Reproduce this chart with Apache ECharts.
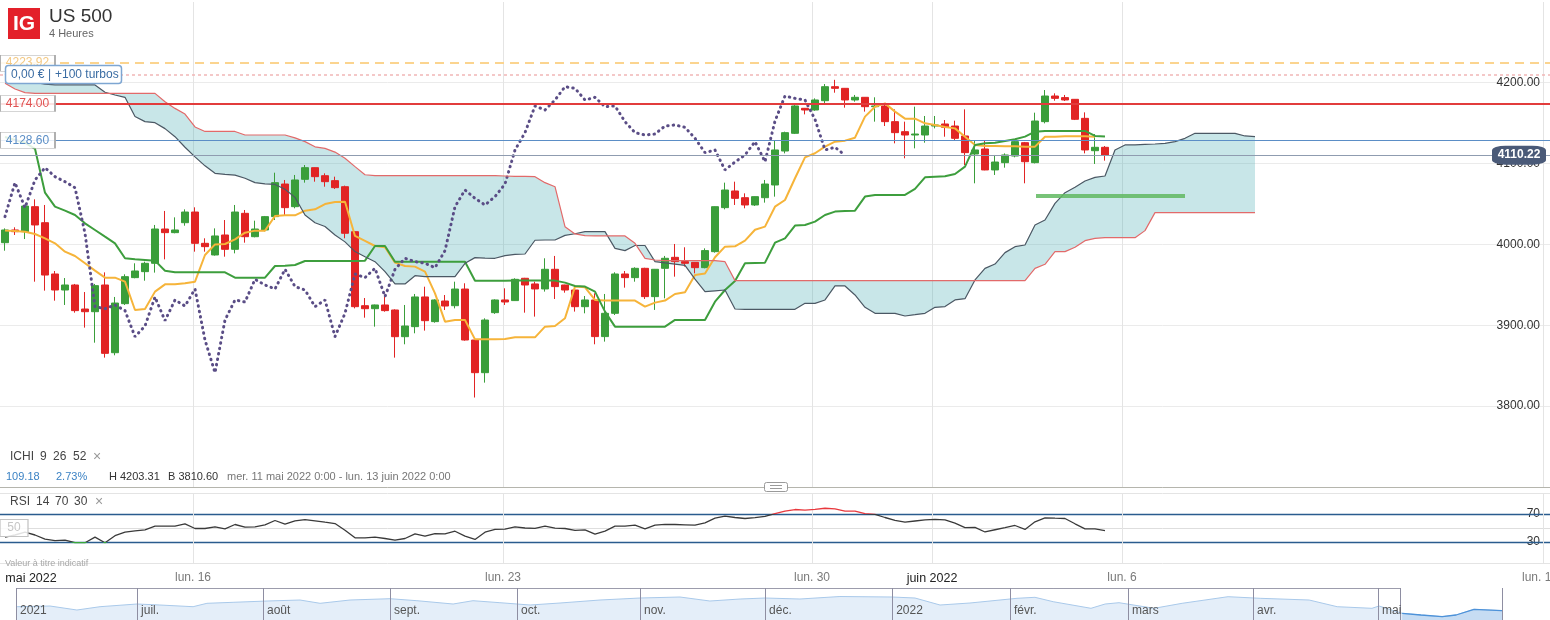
<!DOCTYPE html>
<html><head><meta charset="utf-8">
<script src="https://cdn.jsdelivr.net/npm/echarts@6/dist/echarts.min.js"></script>
<style>html,body{margin:0;padding:0;background:#fff;overflow:hidden}#c{width:1550px;height:620px}</style>
</head><body><div id="c"></div>
<script>
// ---------- DATA ----------
const candleOpen = [4002,4017.7,4015.6,4046.5,4026.7,3963.3,3943.5,3949.7,3920,3916.7,
3949.7,3866,3926.6,3958.8,3966.2,3976.5,4018.9,4014.4,4026.7,4039.9,
4001.2,3986.8,4011.5,3993.8,4038.3,4009.4,4017.7,4034.2,4074.5,4046.5,
4080.3,4094.7,4084.8,4078.7,4071.2,4015.6,3924.1,3920.4,3925,3918.8,
3885.8,3898.2,3934.9,3904.4,3929.9,3924.1,3944.7,3881.7,3841.3,3915.5,
3931.2,3930.4,3958,3951,3944.8,3969.1,3949.7,3943.5,3922.9,3931.2,
3885.9,3914.7,3963.3,3958.8,3970.3,3935.3,3970.3,3983.9,3978.6,3977.7,
3971.1,3990.9,4045.3,4065.9,4057.6,4048.6,4057.6,4073.3,4115.3,4137.2,
4168.1,4166,4177.5,4194.8,4192.8,4178.4,4181.7,4170.1,4171,4151.6,
4139.2,4135.1,4135.1,4146.2,4148.7,4146.2,4133.9,4111.6,4117.8,4091.9,
4100.9,4109.1,4125.6,4100.9,4151.6,4183.3,4181.3,4179.2,4155.7,4115.7,
4119.9];
const candleClose = [4017.7,4015.6,4047.3,4023.9,3962,3943.5,3949.7,3918,3916.7,3948.9,
3865.2,3927.4,3960,3967,3976.5,4018.9,4014.4,4017.7,4039.9,4001.2,
3997.1,4010.3,3993.8,4039.9,4009.4,4018.9,4034.2,4076.2,4045.3,4079.5,
4094.7,4083.6,4077.4,4070,4013.6,3922.9,3920.4,3925,3918,3885.8,
3899,3934.9,3905.6,3931.2,3923.7,3944.7,3881.7,3841.3,3906.4,3931.2,
3928.7,3956.7,3949.7,3944.8,3969.1,3947.7,3943.5,3922.9,3931.2,3885.9,
3914.7,3963.3,3958.8,3970.3,3935.3,3969.1,3982.7,3978.6,3976.5,3971.1,
3992.2,4046.5,4067.1,4056.8,4048.6,4058.9,4074.5,4116.6,4138,4171,
4166,4178.4,4194.8,4192.8,4178.4,4181.7,4170.1,4171,4151.6,4138,
4135.1,4136.3,4146.2,4147.5,4144.6,4131,4113.3,4116.6,4091.9,4101.7,
4110.4,4126.9,4102.1,4152.4,4183.3,4180.4,4178.4,4154.5,4116.6,4119.9,
4110.22];
const candleLow = [3992.1,4011.5,4006.5,3953.8,3942.7,3930.3,3925,3915.5,3897,3878.4,
3859.9,3862.8,3925,3958,3955,3965,3981.4,4013.6,4023,3990.9,
3990.9,3986,3984.7,3988.8,4002,4008.6,4016,4030,4036.2,4044.5,
4076.2,4077.4,4071.2,4068.4,4007.4,3920.8,3909.3,3898.2,3916.7,3859.9,
3876.4,3890,3893.3,3903.1,3918.8,3920.8,3880.9,3810.6,3829,3914,
3925,3930,3915.5,3910.6,3941.5,3932.4,3940.2,3916.8,3914.7,3876.4,
3879.7,3912.6,3946.4,3953.8,3932.4,3918.9,3933.2,3960,3972.4,3964.1,
3970.3,3989.7,4043.2,4048.6,4044.5,4047.4,4051.5,4058.9,4112.4,4136.3,
4160.6,4165,4174.2,4187.4,4168.9,4176.3,4164,4151.6,4146.2,4124.8,
4106.3,4118.6,4125.6,4143.3,4133,4128.9,4098,4075.4,4091.5,4085.7,
4094.7,4107.5,4075.4,4100,4149.5,4177.5,4177.1,4153.6,4112.4,4099.3,
4103.4];
const candleHigh = [4019.7,4021,4048.6,4055.6,4048.6,3967,3958.3,3951,3941,3951,
3965.3,3934.9,3962.9,3976.5,3978.5,4023.9,4041.2,4033.3,4043.2,4045.7,
4007.4,4019.7,4030,4048.6,4042.4,4029.2,4035,4088.5,4079.5,4085.7,
4098,4095,4087.7,4083.6,4072.5,4015.8,3933.6,3925.5,3935.3,3919.6,
3925,3938.6,3947.6,3932,3937.3,3953.8,3951.8,3882,3908.5,3932,
3945.6,3958,3958.5,3953.8,3982.7,3985.6,3950,3947.7,3936.1,3939.4,
3938.6,3965.4,3967,3971.6,3971,3969.5,3985.6,4000.4,3996.3,3978,
3995,4046.8,4076.2,4077.4,4063,4059.2,4079.5,4128.9,4139.2,4172.2,
4168.5,4180.4,4198.1,4203.31,4193.2,4184.6,4182,4181.7,4174.2,4166.8,
4151.6,4170.1,4158.6,4158.6,4153.6,4152.8,4166.8,4128.9,4128.9,4110.4,
4112.4,4129.8,4126.5,4162.7,4190.7,4186.6,4184.6,4179.5,4163.1,4136.3,
4121.5];
const tenkanVals = [4016.9,4016.4,4015.6,4012.7,4007.4,4001.2,3990.9,3985.5,3976.5,3967.4,
3958.8,3958.8,3953.8,3918.8,3920,3941.5,3950.5,3950.5,3951.8,3953.8,
3986.8,3999.9,4000.4,4006.1,4014.4,4016.9,4016.9,4035,4035.8,4035.8,
4041.6,4043.2,4049.8,4052.3,4052.7,4010.3,4004.1,3997.9,3996.3,3977.3,
3973.2,3972.4,3966.2,3939.4,3904.4,3906.4,3906.4,3882.5,3882.5,3882.5,
3883,3885,3885,3885,3898.2,3899,3908.5,3947.7,3946.8,3931.2,
3930.4,3930.4,3930.4,3930.4,3922.9,3927.9,3930.4,3938.6,3940.7,3962,
3964,3984,3997.1,3997.5,4004.5,4018,4021.8,4046.5,4054.8,4081.6,
4107.5,4112.5,4120.7,4126.9,4128.1,4131.8,4157.8,4170.1,4174.2,4164,
4155.3,4155.3,4149.5,4147.5,4145,4143.3,4133,4122.8,4121.5,4121.5,
4121.1,4121.1,4120.7,4120.7,4133,4133,4133.5,4133.5,4133.5,4133];
const kijunVals = [4132.6,4128.9,4125.6,4118,4063.8,4046.5,4041.6,4036.2,4025.9,4017.7,
4009.4,4001.2,3982.7,3981.4,3980.6,3979.8,3967.4,3965.4,3965.4,3965.4,
3965.4,3965.4,3965.4,3958.8,3958.8,3958.8,3958.8,3973.2,3973.6,3974.4,
3979.4,3979.4,3979.4,3979.4,3979.4,3979.4,3979.8,3997.9,3997.9,3978.5,
3978.5,3978.5,3978.5,3978.5,3978.5,3978.5,3978.5,3955,3955,3955,
3955,3955.1,3955.1,3955.1,3955.1,3955.1,3952.6,3948.5,3947.7,3941.5,
3916.8,3898.2,3898.2,3898.2,3898.2,3898.2,3898.2,3906.5,3906.5,3906.5,
3906.5,3929.1,3943.5,3954.5,3976.5,3976.9,3977.3,4002,4007.4,4023.1,
4023.9,4028,4036.2,4040.4,4041.2,4041.6,4059,4061,4061,4061,
4061,4068.4,4082.8,4083.6,4084,4086.9,4096,4122.8,4124.8,4125.6,
4127.7,4129.8,4133.1,4139.2,4140.1,4140.1,4140.1,4140.1,4140.1,4133.9,
4133.1];
const senkouAVals = [4210,4206,4203,4200,4198,4197,4197,4197,4197,4197,
4188,4184.5,4181.7,4158,4151.6,4150.3,4143,4133,4120,4108,
4097,4087.7,4086.5,4085.5,4081.6,4076.2,4074.8,4074,4068,4058,
4036.2,4026.7,4022,4011.5,4003,3991,3984.7,3978.5,3966.2,3951,
3951,3961.2,3960,3960,3960,3960,3976.5,3983.5,3983,3982.7,
3986,3987.5,3988,4005,4005.3,4005.3,4011,4013,4015.6,4015.6,
4015.6,3995,3992.2,3998.5,3998.5,3978.6,3977,3975.5,3974,3957,
3941.5,3942.5,3943.5,3920,3919.6,3919.6,3919.6,3919.6,3919.6,3919.6,
3927,3927,3931.2,3948.5,3948.5,3937.4,3922.1,3914.7,3914.7,3914.7,
3911.4,3913,3914.7,3922.1,3923,3931.2,3932.8,3955.9,3970.3,3975.6,
3989.7,3997.1,3999.1,4023.9,4030,4050.6,4063.8,4070.4,4078.3,4082.8,
4084.4,4116.6,4122.8,4122.8,4123.4,4124,4124.8,4126.9,4131,4137.2,
4137.2,4137.2,4137.2,4137.2,4133.9,4133.1];
const senkouBVals = [4199,4192,4187.5,4186.6,4186.6,4186.6,4186.6,4186.6,4186.6,4186.6,
4186.6,4186.6,4186.6,4186.6,4186.6,4186.6,4176.3,4168,4161,4145,
4139.5,4139.5,4139.5,4139.5,4135.1,4135.1,4135.1,4135.1,4135.1,4131.5,
4126.9,4120.5,4118.5,4114,4106.3,4096,4086,4084.8,4084.8,4084.8,
4084.8,4084.8,4084.8,4084.8,4084.8,4084.8,4084.8,4084.8,4084.8,4084.8,
4084.4,4084,4084,4083.6,4076.2,4071.2,4021.8,4012.8,4010.7,4010.3,
4010.3,4010.3,4010.3,4001.2,3982.7,3980.6,3979.8,3979.8,3979.8,3979.8,
3979.8,3979.8,3978.5,3955.1,3955.1,3955.1,3955.1,3955.1,3955.1,3955.1,
3955.1,3955.1,3955.1,3955.1,3955.1,3955.1,3955.1,3955.1,3955.1,3955.1,
3955.1,3955.1,3955.1,3955.1,3955.1,3955.1,3955.1,3955.1,3955.1,3955.1,
3955.1,3955.1,3955.1,3970.3,3975.3,3990.9,3990.9,3996.3,4004.5,4007.4,
4008.2,4008.2,4008.2,4008.2,4016.9,4039.1,4039.1,4039.1,4039.1,4039.1,
4039.1,4039.1,4039.1,4039.1,4039.1,4039.1];
const rsiVals = [37,40,44,40,34,32,32.6,29,29,37,
29,39,44,46,47.4,52.6,52.6,52.6,56,49.3,
49.3,51.7,48.8,55,51.2,51.7,54.5,60.7,55.5,60.3,
62.1,60.3,58.3,56.4,46.9,36,36,36.9,35,32.6,
35,41.7,38.3,42.1,41.7,45.4,38.3,33.6,44,47.9,
48.5,51.7,50,49.5,52.6,49.7,49.3,46.5,47.2,41.2,
45.5,52.6,52.6,54,48.8,54,55.3,55,54.5,54,
57.4,64,66.9,65,63.6,64.8,66.5,70.5,74,76.4,
75.6,76.5,78.2,77.4,74,74,70.5,69.4,65,61,
58.3,60,61.5,62.4,61.7,57,50.5,51,44.3,47.5,
50.5,53.6,47.9,58.8,64.5,64,63.6,56,48.8,48.8,
46.4];
const chikouShift = 26;
const priceLevels = [4223.92, 4209.6, 4174.00, 4128.60];
const projLevel = 4060, projFrom = 103.1, projTo = 118;
const dayGridPos = [18.8, 49.8, 80.7, 92.7, 111.7, 153.8];
const dateLabelPos = [2.6, 18.8, 49.8, 80.7, 92.7, 111.7, 153.5];
const dateLabels = ['mai 2022','lun. 16','lun. 23','lun. 30','juin 2022','lun. 6','lun. 13'];
const dateIsMonth = [true,false,false,false,true,false,false];
const rsiLevels = [30, 70];
const navWeek = [0.04,1.25,2.24,3.09,4.45,5.29,6.51,7.02,7.98,9.23,10.44,11.18,12.28,13.75,14.74,16.07,16.8,17.79,18.9,20,
21.47,22.94,24.41,25.51,26.62,27.54,28.82,30.29,32.21,33.05,33.97,35.07,36.8,37.46,38.13,39.52,40.04,40.55,41.84,42.87,
44.56,45.74,47.54,48.57,49.85,50.11,50.96,51.65,52.43,52.94,53.6,54.63];
const navValue = [4315,4350,4150,4315,4450,4400,4315,4485,4535,4600,4650,4485,4650,4715,4615,4450,4615,4515,4400,4500,
4650,4750,4800,4600,4700,4750,4700,4825,4800,4750,4400,4500,4735,4785,4565,4235,4450,4515,4235,4485,
4815,4735,4650,4315,4235,4350,3985,3900,3815,3900,4185,4115];
const navMonthPos = [0,4.45,9.08,13.75,18.42,22.94,27.54,32.21,36.54,40.88,45.48,50.07];
const navMonthLabels = ['2021','juil.','août','sept.','oct.','nov.','déc.','2022','févr.','mars','avr.','mai'];
const navWindow = [50.88, 54.63];

// ---------- BUILD ----------
const FONT = 'Liberation Sans, Arial, sans-serif';
const pts = arr => arr.map((v, i) => [i, v]);
const candles = candleOpen.map((o, i) => [i, o, candleClose[i], candleLow[i], candleHigh[i]]);
const chikou = pts(candleClose.slice(chikouShift));
const cloudData = senkouAVals.map((a, i) => [i, a, senkouBVals[i]]);
const lastClose = candleClose[candleClose.length - 1];
const navPts = navWeek.map((w, k) => [w, navValue[k]]);
const navSel = navPts.filter(p => p[0] >= navWindow[0]);

const vLines = dayGridPos.map(v => ({ xAxis: v }));
const GREEN = '#3a9e3a', RED = '#e12424';

function T(text, x, y, size, fill, weight, align) {
  return { type: 'text', x: x, y: y, z: 100, silent: true,
    style: { text: text, fill: fill, fontSize: size, fontFamily: FONT, fontWeight: weight || 'normal',
      align: align || 'left', verticalAlign: 'middle' } };
}

const option = {
  animation: false,
  textStyle: { fontFamily: FONT },
  grid: [
    { left: 0, right: 0, top: 2, height: 485, outerBoundsMode: 'none', containLabel: false },
    { left: 0, right: 0, top: 493, height: 70, outerBoundsMode: 'none', containLabel: false },
    { left: 16, top: 588, width: 1486, height: 32, outerBoundsMode: 'none', containLabel: false }
  ],
  xAxis: [
    { type: 'value', gridIndex: 0, min: -0.5, max: 154.5, axisLabel: { show: false }, axisTick: { show: false },
      splitLine: { show: false }, axisLine: { show: true, onZero: false, lineStyle: { color: '#b5b5ad', width: 1 } } },
    { type: 'value', gridIndex: 1, min: -0.5, max: 154.5, axisTick: { show: false }, splitLine: { show: false },
      axisLine: { show: false },
      axisLabel: { customValues: dateLabelPos, margin: 9, showMinLabel: true, showMaxLabel: true, hideOverlap: false,
        formatter: function (v) {
          for (let k = 0; k < dateLabelPos.length; k++) {
            if (Math.abs(dateLabelPos[k] - v) < 0.01) return dateIsMonth[k] ? '{m|' + dateLabels[k] + '}' : '{d|' + dateLabels[k] + '}';
          }
          return '';
        },
        rich: { m: { color: '#222', fontSize: 12.5, fontFamily: FONT }, d: { color: '#7a7a7a', fontSize: 12, fontFamily: FONT } } } },
    { type: 'value', gridIndex: 2, min: 0, max: 54.63, z: 10, splitLine: { show: false }, axisLine: { show: false },
      axisTick: { show: true, inside: true, length: 32, customValues: navMonthPos.concat(navWindow), lineStyle: { color: '#8e8ea2' } },
      axisLabel: { inside: true, customValues: navMonthPos, align: 'left', margin: 3, padding: [0, 0, 0, 4],
        showMinLabel: true, color: '#555', fontSize: 12,
        formatter: function (v) {
          for (let k = 0; k < navMonthPos.length; k++) if (Math.abs(navMonthPos[k] - v) < 0.01) return navMonthLabels[k];
          return '';
        } } }
  ],
  yAxis: [
    { type: 'value', gridIndex: 0, position: 'right', min: 3700, max: 4299.5, interval: 100,
      axisLine: { show: false }, axisTick: { show: false },
      splitLine: { showMaxLine: false, showMinLine: false, lineStyle: { color: '#ebebeb' } },
      axisLabel: { inside: true, margin: 10, color: '#333', fontSize: 12,
        formatter: v => (v >= 3800 && v <= 4200) ? v.toFixed(2) : '' } },
    { type: 'value', gridIndex: 1, position: 'right', min: 0, max: 100, interval: 10,
      axisLine: { show: false }, axisTick: { show: false }, splitLine: { show: false },
      axisLabel: { inside: true, margin: 10, color: '#333', fontSize: 12,
        formatter: v => rsiLevels.indexOf(v) >= 0 ? String(v) : '' } },
    { type: 'value', gridIndex: 2, min: 3650, max: 5250, show: false }
  ],
  visualMap: [{ type: 'piecewise', show: false, seriesIndex: 7, dimension: 1,
    pieces: [{ lt: 30, color: '#3aa83a' }, { gte: 30, lte: 70, color: '#3a3a3a' }, { gt: 70, color: '#e8383d' }] }],
  series: [
    { type: 'candlestick', name: 'US 500', xAxisIndex: 0, yAxisIndex: 0, barWidth: 8, data: candles,
      itemStyle: { color: GREEN, color0: RED, borderColor: GREEN, borderColor0: RED, borderWidth: 1 },
      markLine: { z: 1, silent: true, symbol: 'none', label: { show: false },
        lineStyle: { color: '#e4e4e4', width: 1, type: 'solid' }, data: vLines } },
    { type: 'line', name: 'Tenkan', data: pts(tenkanVals), showSymbol: false, symbol: 'none',
      lineStyle: { color: '#f6b43a', width: 2 } },
    { type: 'line', name: 'Kijun', data: pts(kijunVals), showSymbol: false, symbol: 'none',
      lineStyle: { color: '#3d9e3d', width: 2 } },
    { type: 'line', name: 'Chikou', data: chikou, showSymbol: false, symbol: 'none',
      lineStyle: { color: '#5a4d86', width: 3, type: [0.5, 5], cap: 'round' } },
    { type: 'custom', name: 'Kumo', xAxisIndex: 0, yAxisIndex: 0, silent: true, data: cloudData,
      encode: { x: 0, y: [1, 2] },
      renderItem: function (params, api) {
        if (params.dataIndex !== 0) return null;
        const up = [], dn = [];
        for (let i = 0; i < cloudData.length; i++) {
          up.push(api.coord([cloudData[i][0], cloudData[i][1]]));
          dn.push(api.coord([cloudData[i][0], cloudData[i][2]]));
        }
        return { type: 'polygon', shape: { points: up.concat(dn.reverse()) },
          style: { fill: 'rgba(72,172,178,0.3)', stroke: null } };
      } },
    { type: 'line', name: 'Senkou A', data: pts(senkouAVals), showSymbol: false, symbol: 'none',
      lineStyle: { color: '#4b5864', width: 1.2 } },
    { type: 'line', name: 'Senkou B', data: pts(senkouBVals), showSymbol: false, symbol: 'none',
      lineStyle: { color: '#e26a6a', width: 1.2 },
      markLine: { silent: true, symbol: 'none', label: { show: false },
        data: [
          { yAxis: priceLevels[0], lineStyle: { color: '#fbd48f', width: 2, type: [9, 6] } },
          { yAxis: priceLevels[1], lineStyle: { color: '#f1b6b6', width: 1.5, type: [3, 3] } },
          { yAxis: priceLevels[2], lineStyle: { color: '#e23c3c', width: 2, type: 'solid' } },
          { yAxis: priceLevels[3], lineStyle: { color: '#5b8ec6', width: 1.2, type: 'solid' } },
          { yAxis: lastClose, lineStyle: { color: '#8f9cb0', width: 1.2, type: 'solid' } },
          [{ coord: [projFrom, projLevel], lineStyle: { color: 'rgba(96,184,96,0.85)', width: 4, type: 'solid' } },
           { coord: [projTo, projLevel] }]
        ] },
      markPoint: { z: 6, silent: true, symbol: 'rect', symbolSize: [55, 16],
        itemStyle: { color: 'rgba(255,255,255,0.85)', borderColor: '#ababab', borderWidth: 1 },
        label: { show: true, position: 'inside', fontSize: 12, fontFamily: FONT, formatter: p => Number(p.value).toFixed(2) },
        data: [
          { coord: [2.25, priceLevels[0]], value: priceLevels[0], label: { color: '#f3c882' } },
          { coord: [2.25, priceLevels[2]], value: priceLevels[2], label: { color: '#e05252' } },
          { coord: [2.25, priceLevels[3]], value: priceLevels[3], label: { color: '#5b8ec6' } },
          { coord: [151.4, lastClose], value: lastClose, symbol: 'roundRect', symbolSize: [54, 19],
            itemStyle: { color: '#4a5a78', borderWidth: 0 }, label: { color: '#fff', fontWeight: 'bold' } }
        ] } },
    { type: 'line', name: 'RSI', xAxisIndex: 1, yAxisIndex: 1, data: pts(rsiVals), showSymbol: false, symbol: 'none',
      lineStyle: { width: 1.3 },
      markLine: { z: 1, silent: true, symbol: 'none', label: { show: false },
        data: [
          { yAxis: 0, lineStyle: { color: '#e4e4e4', width: 1, type: 'solid' } },
          { yAxis: 50, lineStyle: { color: '#dedede', width: 1, type: 'solid' } },
          { yAxis: 100, lineStyle: { color: '#e4e4e4', width: 1, type: 'solid' } },
          { yAxis: rsiLevels[0], lineStyle: { color: '#2a5c8e', width: 1.3, type: 'solid' } },
          { yAxis: rsiLevels[1], lineStyle: { color: '#2a5c8e', width: 1.3, type: 'solid' } }
        ].concat(dayGridPos.map(v => ({ xAxis: v, lineStyle: { color: '#e4e4e4', width: 1, type: 'solid' } }))) },
      markPoint: { z: 6, silent: true, symbol: 'rect', symbolSize: [28, 17],
        itemStyle: { color: 'rgba(255,255,255,0.85)', borderColor: '#c4c4c4', borderWidth: 1 },
        label: { show: true, position: 'inside', color: '#c6c6c6', fontSize: 12, formatter: '50' },
        data: [{ coord: [0.9, 50], value: 50 }] } },
    { type: 'line', name: 'nav', xAxisIndex: 2, yAxisIndex: 2, z: 1, data: navPts, showSymbol: false, symbol: 'none',
      lineStyle: { color: '#a9c9ea', width: 1 }, areaStyle: { color: '#e4eef9', opacity: 1 },
      markLine: { silent: true, symbol: 'none', label: { show: false },
        data: [[{ coord: [0, 5250], lineStyle: { color: '#9c9cac', width: 1, type: 'solid' } }, { coord: [navWindow[0], 5250] }]] } },
    { type: 'line', name: 'navSel', xAxisIndex: 2, yAxisIndex: 2, z: 1, data: navSel, showSymbol: false, symbol: 'none',
      lineStyle: { color: '#4d92d9', width: 1.3 }, areaStyle: { color: '#c6dcf3', opacity: 1 } }
  ],
  graphic: [
    { type: 'rect', z: 100, silent: true, shape: { x: 8, y: 8, width: 32, height: 31 }, style: { fill: '#e3202a' } },
    T('IG', 24, 24.5, 21, '#fff', 'bold', 'center'),
    T('US 500', 49, 17, 19, '#333'),
    T('4 Heures', 49, 34, 11, '#666'),
    { type: 'rect', z: 100, silent: true, shape: { x: 5.5, y: 65.5, width: 116, height: 18, r: 3 },
      style: { fill: '#fff', stroke: '#7ea6d2', lineWidth: 1.5 } },
    T('0,00 €', 11, 75, 12, '#3a6ca3'),
    T('|', 48, 75, 12, '#3a6ca3'),
    T('+100 turbos', 55, 75, 12, '#3a6ca3'),
    T('ICHI', 10, 457, 12, '#444'),
    T('9', 40, 457, 12, '#444'),
    T('26', 53, 457, 12, '#444'),
    T('52', 73, 457, 12, '#444'),
    T('×', 93, 457, 14, '#999'),
    T('109.18', 6, 477, 11, '#3b82c4'),
    T('2.73%', 56, 477, 11, '#3b82c4'),
    T('H 4203.31', 109, 477, 11, '#333'),
    T('B 3810.60', 168, 477, 11, '#333'),
    T('mer. 11 mai 2022 0:00 - lun. 13 juin 2022 0:00', 227, 477, 11, '#777'),
    { type: 'rect', z: 100, silent: true, shape: { x: 764.5, y: 482.5, width: 23, height: 9, r: 2 },
      style: { fill: '#fff', stroke: '#9a9a9a', lineWidth: 1 } },
    { type: 'line', z: 101, silent: true, shape: { x1: 770, y1: 485.5, x2: 782, y2: 485.5 }, style: { stroke: '#9a9a9a', lineWidth: 1 } },
    { type: 'line', z: 101, silent: true, shape: { x1: 770, y1: 488.5, x2: 782, y2: 488.5 }, style: { stroke: '#9a9a9a', lineWidth: 1 } },
    T('RSI', 10, 502, 12, '#444'),
    T('14', 36, 502, 12, '#444'),
    T('70', 55, 502, 12, '#444'),
    T('30', 74, 502, 12, '#444'),
    T('×', 95, 502, 14, '#999'),
    T('Valeur à titre indicatif', 5, 564, 9, '#a8a8a8')
  ]
};
const chart = echarts.init(document.getElementById('c'), null, { renderer: 'canvas' });
chart.setOption(option);
</script>
</body></html>
